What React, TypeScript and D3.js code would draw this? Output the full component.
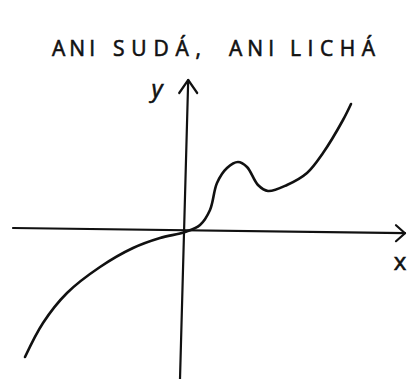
import React from "react";
import * as d3 from "d3";

// hand-drawn sketch: "neither even nor odd" function
const titleWords = ["ANI", "SUDÁ,", "ANI", "LICHÁ"];
const titleX = [52, 113, 229, 290];
const titleW = [43, 88, 45, 85];

const curveX = [-4.0, -3.55, -2.95, -2.125, -1.3, -0.625, 0, 0.375, 0.625, 0.8, 1.05, 1.325, 1.55, 1.825, 2.075, 2.55, 3.05, 3.45, 3.95, 4.15];
const curveY = [-3.125, -2.275, -1.525, -0.875, -0.4, -0.15, 0, 0.175, 0.55, 1.225, 1.6, 1.75, 1.625, 1.175, 1.025, 1.175, 1.475, 1.975, 2.8, 3.2];

// axis ends (data units), slightly wobbly like the sketch
const xAxisX = [-4.3, 5.5];
const xAxisY = [0.1, -0.03];
const yAxisX = [0.08, -0.125];
const yAxisY = [3.8, -3.675];

const W = 408;
const H = 379;

export default function App() {
  const x = d3.scaleLinear().domain([-4.3, 5.5]).range([13, 405]);
  const y = d3.scaleLinear().domain([-3.675, 5.2]).range([379, 24]);

  const pts: [number, number][] = curveX.map((v, i) => [v, curveY[i]]);
  const line = d3
    .line<[number, number]>()
    .x((d) => x(d[0]))
    .y((d) => y(d[1]))
    .curve(d3.curveCatmullRom.alpha(0.5));

  const xTip: [number, number] = [x(xAxisX[1]), y(xAxisY[1])];
  const yTip: [number, number] = [x(yAxisX[0]), y(yAxisY[0])];

  const ink = "#111";
  const font = "'Open Sans', 'DejaVu Sans', sans-serif";

  return (
    <svg width={W} height={H} style={{ position: "absolute", left: 0, top: 0, background: "#fff" }}>
      <g fill={ink} stroke={ink} strokeWidth={0.6} fontFamily={font} fontSize={21}>
        {titleWords.map((w, i) => (
          <text key={i} x={titleX[i]} y={56} textLength={titleW[i]} lengthAdjust="spacing">
            {w}
          </text>
        ))}
      </g>

      <g stroke={ink} strokeWidth={2.2} strokeLinecap="round" strokeLinejoin="round" fill="none">
        <line x1={x(xAxisX[0])} y1={y(xAxisY[0])} x2={xTip[0]} y2={xTip[1]} />
        <path d="M-9,-8 L0,0 L-9,8" transform={`translate(${xTip[0]},${xTip[1]})`} />
        <line x1={x(yAxisX[0])} y1={y(yAxisY[0])} x2={x(yAxisX[1])} y2={y(yAxisY[1])} />
        <path d="M-9,13 L0,0 L9,13" transform={`translate(${yTip[0]},${yTip[1]})`} />
        <path d={line(pts) ?? ""} strokeWidth={2.6} />
      </g>

      <text x={400} y={270} textAnchor="middle" fontFamily={font} fontSize={24} fill={ink} stroke={ink} strokeWidth={0.6}>
        x
      </text>
      <text x={157} y={97} textAnchor="middle" fontFamily={font} fontSize={24} fontStyle="italic" fill={ink} stroke={ink} strokeWidth={0.6}>
        y
      </text>
    </svg>
  );
}
